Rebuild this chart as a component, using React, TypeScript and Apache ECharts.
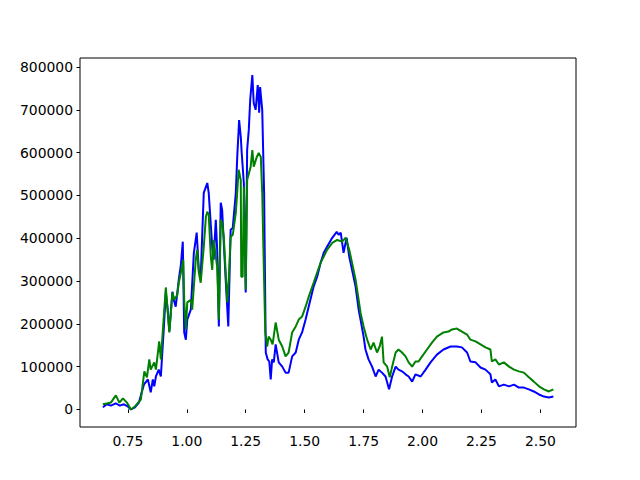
import React, { useEffect, useRef } from "react";
import * as echarts from "echarts";

const blueX = [
  0.644, 0.661, 0.678, 0.699, 0.716, 0.733, 0.75, 0.763, 0.78, 0.797,
  0.818, 0.835, 0.847, 0.856, 0.862, 0.869, 0.881, 0.89, 0.903, 0.911,
  0.919, 0.926, 0.939, 0.945, 0.953, 0.966, 0.975, 0.983, 0.989, 0.996,
  1.002, 1.017, 1.03, 1.042, 1.051, 1.059, 1.072, 1.087, 1.093, 1.108,
  1.114, 1.123, 1.129, 1.136, 1.144, 1.15, 1.157, 1.165, 1.176, 1.186,
  1.195, 1.208, 1.214, 1.222, 1.229, 1.233, 1.242, 1.25, 1.256, 1.263,
  1.269, 1.278, 1.284, 1.292, 1.301, 1.307, 1.311, 1.32, 1.328, 1.335,
  1.343, 1.35, 1.356, 1.362, 1.369, 1.377, 1.39, 1.405, 1.419, 1.432,
  1.447, 1.462, 1.475, 1.489, 1.504, 1.517, 1.538, 1.553, 1.568, 1.581,
  1.595, 1.617, 1.636, 1.644, 1.653, 1.665, 1.678, 1.689, 1.701, 1.716,
  1.729, 1.737, 1.75, 1.758, 1.771, 1.786, 1.801, 1.814, 1.828, 1.843,
  1.858, 1.871, 1.886, 1.898, 1.913, 1.928, 1.941, 1.956, 1.97, 1.992,
  2.013, 2.034, 2.061, 2.089, 2.119, 2.146, 2.167, 2.189, 2.203, 2.225,
  2.246, 2.267, 2.288, 2.294, 2.309, 2.324, 2.345, 2.367, 2.388, 2.409,
  2.43, 2.451, 2.472, 2.494, 2.515, 2.536, 2.555,
];
const blueY = [
  5000, 12000, 9000, 14000, 9000, 12000, 7000, 0, 5000, 16000,
  58000, 70000, 40000, 70000, 54000, 77000, 93000, 77000, 194000, 273000,
  233000, 182000, 275000, 256000, 240000, 303000, 338000, 392000, 180000, 163000,
  210000, 233000, 366000, 413000, 326000, 310000, 506000, 529000, 506000, 380000,
  350000, 443000, 373000, 194000, 483000, 466000, 389000, 303000, 194000, 420000,
  424000, 506000, 590000, 676000, 637000, 599000, 529000, 273000, 606000, 653000,
  723000, 781000, 716000, 700000, 758000, 693000, 753000, 700000, 506000, 133000,
  117000, 112000, 70000, 117000, 110000, 152000, 110000, 100000, 86000, 86000,
  124000, 133000, 163000, 180000, 210000, 240000, 287000, 310000, 343000, 366000,
  380000, 401000, 415000, 408000, 413000, 366000, 401000, 357000, 326000, 287000,
  233000, 210000, 170000, 140000, 117000, 100000, 77000, 93000, 86000, 77000,
  47000, 77000, 100000, 93000, 89000, 82000, 77000, 65000, 82000, 77000,
  93000, 110000, 128000, 140000, 147000, 147000, 145000, 133000, 112000, 110000,
  98000, 93000, 82000, 63000, 70000, 54000, 58000, 54000, 58000, 51000,
  51000, 47000, 42000, 35000, 30000, 28000, 30000,
];

const greenX = [
  0.644, 0.661, 0.678, 0.699, 0.714, 0.729, 0.746, 0.763, 0.78, 0.805,
  0.82, 0.831, 0.841, 0.847, 0.862, 0.869, 0.883, 0.89, 0.911, 0.926,
  0.939, 0.947, 0.96, 0.966, 0.975, 0.985, 0.989, 0.996, 1.002, 1.017,
  1.023, 1.038, 1.044, 1.051, 1.059, 1.072, 1.081, 1.087, 1.093, 1.102,
  1.108, 1.114, 1.123, 1.129, 1.136, 1.144, 1.15, 1.157, 1.165, 1.172,
  1.178, 1.186, 1.195, 1.208, 1.214, 1.22, 1.229, 1.231, 1.237, 1.242,
  1.25, 1.256, 1.271, 1.278, 1.284, 1.297, 1.305, 1.314, 1.32, 1.326,
  1.333, 1.341, 1.347, 1.356, 1.364, 1.377, 1.39, 1.405, 1.419, 1.432,
  1.447, 1.462, 1.475, 1.489, 1.504, 1.517, 1.538, 1.553, 1.568, 1.581,
  1.595, 1.617, 1.638, 1.659, 1.674, 1.689, 1.701, 1.716, 1.729, 1.737,
  1.75, 1.765, 1.78, 1.792, 1.807, 1.818, 1.828, 1.835, 1.85, 1.861,
  1.871, 1.886, 1.898, 1.913, 1.928, 1.941, 1.956, 1.97, 1.983, 1.998,
  2.019, 2.04, 2.061, 2.089, 2.11, 2.125, 2.146, 2.167, 2.189, 2.203,
  2.225, 2.246, 2.267, 2.288, 2.294, 2.309, 2.324, 2.345, 2.367, 2.388,
  2.409, 2.43, 2.451, 2.472, 2.494, 2.515, 2.536, 2.555,
];
const greenY = [
  12000, 14000, 16000, 33000, 16000, 26000, 16000, 0, 7000, 23000,
  89000, 75000, 117000, 93000, 110000, 93000, 159000, 117000, 285000, 180000,
  273000, 256000, 268000, 296000, 320000, 350000, 256000, 187000, 250000, 256000,
  233000, 350000, 373000, 320000, 296000, 380000, 450000, 462000, 455000, 357000,
  326000, 396000, 357000, 333000, 210000, 443000, 436000, 403000, 320000, 250000,
  303000, 403000, 408000, 460000, 508000, 560000, 536000, 310000, 310000, 520000,
  280000, 536000, 567000, 606000, 567000, 590000, 599000, 590000, 506000, 350000,
  180000, 147000, 170000, 163000, 152000, 203000, 163000, 147000, 124000, 133000,
  180000, 194000, 210000, 217000, 240000, 263000, 296000, 320000, 343000, 357000,
  373000, 389000, 396000, 392000, 401000, 373000, 343000, 303000, 256000, 226000,
  194000, 163000, 140000, 156000, 133000, 147000, 170000, 110000, 100000, 75000,
  100000, 133000, 140000, 133000, 124000, 110000, 100000, 112000, 112000, 124000,
  140000, 156000, 170000, 180000, 182000, 187000, 189000, 182000, 175000, 163000,
  159000, 152000, 145000, 140000, 112000, 117000, 105000, 110000, 100000, 93000,
  89000, 86000, 75000, 65000, 54000, 47000, 42000, 47000,
];

const xTicks = [0.75, 1.0, 1.25, 1.5, 1.75, 2.0, 2.25, 2.5];
const yTicks = [0, 100000, 200000, 300000, 400000, 500000, 600000, 700000, 800000];

function zip(xs: number[], ys: number[]) {
  return xs.map((x, i) => [x, ys[i]]);
}

export default function App() {
  const ref = useRef<HTMLDivElement>(null);
  useEffect(() => {
    const chart = echarts.init(ref.current!, null, { renderer: "svg" });
    const font = "DejaVu Sans";
    chart.setOption({
      animation: false,
      backgroundColor: "#ffffff",
      grid: {
        left: 80,
        right: 64,
        top: 58,
        bottom: 53,
        show: true,
        borderColor: "#000000",
        borderWidth: 1,
        backgroundColor: "transparent",
      },
      xAxis: {
        type: "value",
        min: 0.547,
        max: 2.651,
        axisLine: { show: false },
        splitLine: { show: false },
        axisTick: {
          show: true,
          length: 3.5,
          customValues: xTicks,
          lineStyle: { color: "#000000", width: 1 },
        },
        axisLabel: {
          customValues: xTicks,
          formatter: (v: number) => v.toFixed(2),
          color: "#000000",
          fontSize: 13.9,
          fontFamily: font,
          margin: 7,
        },
      },
      yAxis: {
        type: "value",
        min: -41000,
        max: 821000,
        axisLine: { show: false },
        splitLine: { show: false },
        axisTick: {
          show: true,
          length: 3.5,
          customValues: yTicks,
          lineStyle: { color: "#000000", width: 1 },
        },
        axisLabel: {
          customValues: yTicks,
          formatter: (v: number) => String(v),
          color: "#000000",
          fontSize: 13.9,
          fontFamily: font,
          margin: 7,
        },
      },
      series: [
        {
          type: "line",
          data: zip(blueX, blueY),
          showSymbol: false,
          lineStyle: { color: "#0000ff", width: 2 },
          itemStyle: { color: "#0000ff" },
        },
        {
          type: "line",
          data: zip(greenX, greenY),
          showSymbol: false,
          lineStyle: { color: "#008000", width: 2 },
          itemStyle: { color: "#008000" },
        },
      ],
    });
    return () => chart.dispose();
  }, []);
  return (
    <div
      ref={ref}
      style={{ position: "fixed", left: 0, top: 0, width: 640, height: 480 }}
    />
  );
}
